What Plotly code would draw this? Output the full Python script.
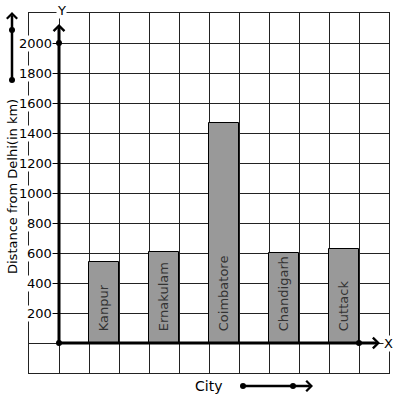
import numpy as np
import plotly.graph_objects as go

# ---- data ----
cities = ["Kanpur", "Ernakulam", "Coimbatore", "Chandigarh", "Cuttack"]
distances = [540, 610, 1470, 600, 630]
y_ticks = [200, 400, 600, 800, 1000, 1200, 1400, 1600, 1800, 2000]
y_title = "Distance from Delhi(in km)"
x_title = "City"

# layout geometry (one grid cell per unit; each bar one cell, a gap cell between)
W, H = 397, 399
ML, MR, MT, MB = 29, 8, 13, 26
PW, PH = W - ML - MR, H - MT - MB
x_pos = 1.5 + 2 * np.arange(len(cities))
FONT = "DejaVu Sans"


def px_x(p):
    return (p - ML) / PW


def px_y(p):
    return (H - MB - p) / PH


fig = go.Figure()
fig.add_trace(go.Bar(
    x=x_pos, y=distances, width=1,
    marker=dict(color="#999999", line=dict(color="black", width=1)),
    text=["\u00a0\u00a0" + c for c in cities],
    textposition="inside", insidetextanchor="start", textangle=-90,
    textfont=dict(family=FONT, size=13, color="#333333"),
    hoverinfo="skip", showlegend=False,
))
# dots on axes
fig.add_trace(go.Scatter(
    x=[0, 0, 10], y=[0, 2000, 0], mode="markers",
    marker=dict(color="black", size=6), cliponaxis=False,
    yaxis="y2", showlegend=False, hoverinfo="skip",
))

annotations = []
for v in y_ticks:
    annotations.append(dict(
        x=0, y=v, xref="x", yref="y", text=str(v), showarrow=False,
        xanchor="right", yanchor="middle", xshift=-6, bgcolor="white",
        borderpad=0, font=dict(family=FONT, size=13, color="black")))

# axis arrows
arrow_common = dict(text="", showarrow=True, arrowhead=4, arrowcolor="black",
                    standoff=0, startstandoff=0)
annotations.append(dict(x=0, y=2127, ax=0, ay=0, xref="x", yref="y",
                        axref="x", ayref="y", arrowwidth=3, arrowsize=0.7,
                        **arrow_common))
annotations.append(dict(x=10.7, y=0, ax=0, ay=0, xref="x", yref="y",
                        axref="x", ayref="y", arrowwidth=3, arrowsize=0.7,
                        **arrow_common))
# decorative arrows outside plot
annotations.append(dict(x=px_x(12), y=px_y(12), ax=0, ay=68, xref="paper",
                        yref="paper", arrowwidth=2.5, arrowsize=0.8, **arrow_common))
annotations.append(dict(x=px_x(313), y=px_y(386), ax=-70, ay=0, xref="paper",
                        yref="paper", arrowwidth=2.5, arrowsize=0.8, **arrow_common))
# labels
annotations.append(dict(x=10.97, y=0, xref="x", yref="y", text="X", showarrow=False,
                        xanchor="center", yanchor="middle", bgcolor="white", borderpad=0,
                        font=dict(family=FONT, size=13, color="black")))
annotations.append(dict(x=px_x(61), y=px_y(10), xref="paper", yref="paper", text="Y",
                        showarrow=False, xanchor="center", yanchor="middle",
                        bgcolor="white", borderpad=0,
                        font=dict(family=FONT, size=13, color="black")))
annotations.append(dict(x=px_x(208), y=px_y(386), xref="paper", yref="paper",
                        text=x_title, showarrow=False, xanchor="center", yanchor="middle",
                        font=dict(family=FONT, size=14, color="black")))
annotations.append(dict(x=px_x(13), y=px_y(187), xref="paper", yref="paper",
                        text=y_title, showarrow=False, textangle=-90,
                        xanchor="center", yanchor="middle",
                        font=dict(family=FONT, size=13, color="black")))

shapes = []
for (cx, cy) in [(12, 80), (12, 30), (243, 386), (293, 386)]:
    shapes.append(dict(type="circle", xref="paper", yref="paper",
                       xsizemode="pixel", ysizemode="pixel",
                       xanchor=px_x(cx), yanchor=px_y(cy),
                       x0=-3, x1=3, y0=-3, y1=3,
                       fillcolor="black", line=dict(color="black", width=0)))

grid = dict(showgrid=True, gridcolor="#222222", gridwidth=1, zeroline=False,
            showline=True, linecolor="#222222", linewidth=1, mirror=True,
            showticklabels=False, ticks="")
fig.update_layout(
    width=W, height=H,
    margin=dict(l=ML, r=MR, t=MT, b=MB, pad=0),
    plot_bgcolor="white", paper_bgcolor="white",
    font=dict(family=FONT, size=13, color="black"),
    xaxis=dict(range=[-1, 11], tick0=0, dtick=1, **grid),
    yaxis=dict(range=[-200, 2200], tick0=0, dtick=200, **grid),
    yaxis2=dict(range=[-200, 2200], overlaying="y", anchor="free",
                position=px_x(59), tickvals=y_ticks, ticks="outside", ticklen=6,
                tickcolor="black", tickwidth=1, showticklabels=False,
                showgrid=False, zeroline=False, showline=False),
    annotations=annotations, shapes=shapes,
    bargap=0,
)
fig.write_html(
    "out.html",
    config={"displayModeBar": False},
    post_script="document.body.style.margin='0';document.body.style.overflow='hidden';",
)
